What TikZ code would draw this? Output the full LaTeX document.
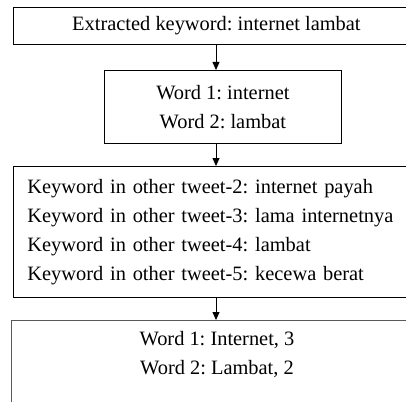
\documentclass[tikz,border=0pt]{standalone}
\usepackage{fontspec}
\setmainfont{Liberation Serif}
\usetikzlibrary{arrows.meta}
\frenchspacing
\begin{document}
\begin{tikzpicture}[x=1pt,y=-1pt,
  box/.style={draw, line width=0.8pt, inner sep=0pt, anchor=north west, font=\fontsize{20.4}{29}\selectfont},
  txt/.style={inner sep=0pt, font=\fontsize{20.4}{29}\selectfont, align=center},
  arr/.style={-{Triangle[width=7pt,length=8pt]}, line width=0.8pt}]
\useasboundingbox (0,0) rectangle (406,401);
\clip (0,0) rectangle (406,401);
\node[box, minimum width=406pt, minimum height=37pt] (b1) at (13,7) {Extracted keyword: internet lambat};
\node[box, minimum width=237pt, minimum height=73pt, align=center] (b2) at (104,70) {Word 1: internet\\Word 2: lambat};
\node[box, minimum width=406pt, minimum height=131pt, inner xsep=14pt, text width=378pt, align=left] (b3) at (13,166)
  {Keyword in other tweet-2: internet payah\\Keyword in other tweet-3: lama internetnya\\Keyword in other tweet-4: lambat\\Keyword in other tweet-5: kecewa berat};
\node[box, draw=black!65, line width=1pt, minimum width=410pt, minimum height=120pt] (b4) at (11,320) {};
\node[txt] (t4) at (217,354) {Word 1: Internet, 3\\Word 2: Lambat, 2};
\coordinate (ax) at (216,0);
\draw[arr] (b1.south -| ax) -- (b2.north -| ax);
\draw[arr] (b2.south -| ax) -- (b3.north -| ax);
\draw[arr] (b3.south -| ax) -- (b4.north -| ax);
\end{tikzpicture}
\end{document}
